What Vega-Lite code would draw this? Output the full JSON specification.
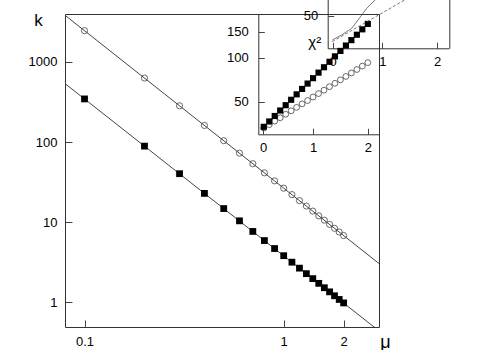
{
  "$schema": "https://vega.github.io/schema/vega-lite/v6.json",
  "width": 314,
  "height": 313,
  "autosize": {"type": "none"},
  "padding": {"left": 65, "top": 14, "right": 121, "bottom": 23},
  "background": "white",
  "config": {
    "view": {"stroke": "#333", "strokeWidth": 1},
    "font": "Liberation Sans",
    "axis": {
      "grid": false,
      "tickColor": "#444",
      "domainColor": "#333",
      "labelFont": "Liberation Sans",
      "labelFontSize": 13,
      "labelColor": "#000",
      "labelFlush": false,
      "labelOverlap": false,
      "titleFont": "Liberation Sans",
      "titleFontWeight": "normal",
      "titleColor": "#000"
    }
  },
  "datasets": {
    "main": [
      {"s": "o", "mu": 0.1, "k": 2458}, {"s": "o", "mu": 0.2, "k": 629.5}, {"s": "o", "mu": 0.3, "k": 283.8}, {"s": "o", "mu": 0.4, "k": 161.2},
      {"s": "o", "mu": 0.5, "k": 104.0}, {"s": "o", "mu": 0.6, "k": 72.7}, {"s": "o", "mu": 0.7, "k": 53.7}, {"s": "o", "mu": 0.8, "k": 41.3},
      {"s": "o", "mu": 0.9, "k": 32.8}, {"s": "o", "mu": 1.0, "k": 26.6}, {"s": "o", "mu": 1.1, "k": 22.1}, {"s": "o", "mu": 1.2, "k": 18.6},
      {"s": "o", "mu": 1.3, "k": 15.9}, {"s": "o", "mu": 1.4, "k": 13.75}, {"s": "o", "mu": 1.5, "k": 12.0}, {"s": "o", "mu": 1.6, "k": 10.6},
      {"s": "o", "mu": 1.7, "k": 9.39}, {"s": "o", "mu": 1.8, "k": 8.39}, {"s": "o", "mu": 1.9, "k": 7.54}, {"s": "o", "mu": 2.0, "k": 6.82},
      {"s": "sq", "mu": 0.1, "k": 345.6}, {"s": "sq", "mu": 0.2, "k": 89.0}, {"s": "sq", "mu": 0.3, "k": 40.3}, {"s": "sq", "mu": 0.4, "k": 22.9},
      {"s": "sq", "mu": 0.5, "k": 14.8}, {"s": "sq", "mu": 0.6, "k": 10.4}, {"s": "sq", "mu": 0.7, "k": 7.67}, {"s": "sq", "mu": 0.8, "k": 5.90},
      {"s": "sq", "mu": 0.9, "k": 4.69}, {"s": "sq", "mu": 1.0, "k": 3.82}, {"s": "sq", "mu": 1.1, "k": 3.17}, {"s": "sq", "mu": 1.2, "k": 2.67},
      {"s": "sq", "mu": 1.3, "k": 2.28}, {"s": "sq", "mu": 1.4, "k": 1.975}, {"s": "sq", "mu": 1.5, "k": 1.725}, {"s": "sq", "mu": 1.6, "k": 1.521},
      {"s": "sq", "mu": 1.7, "k": 1.351}, {"s": "sq", "mu": 1.8, "k": 1.207}, {"s": "sq", "mu": 1.9, "k": 1.086}, {"s": "sq", "mu": 2.0, "k": 0.983}
    ],
    "fit": [
      {"s": "o", "mu": 0.0798, "k": 3828}, {"s": "o", "mu": 3.01, "k": 3.05},
      {"s": "sq", "mu": 0.0798, "k": 537}, {"s": "sq", "mu": 3.01, "k": 0.44}
    ],
    "chi": [
      {"s": "o", "mu": 0.1, "c": 33.0}, {"s": "o", "mu": 0.2, "c": 34.8}, {"s": "o", "mu": 0.3, "c": 36.8}, {"s": "o", "mu": 0.4, "c": 38.8},
      {"s": "o", "mu": 0.5, "c": 41.0}, {"s": "o", "mu": 0.6, "c": 43.3}, {"s": "o", "mu": 0.7, "c": 45.7}, {"s": "o", "mu": 0.8, "c": 48.3},
      {"s": "o", "mu": 0.9, "c": 50.9}, {"s": "o", "mu": 1.0, "c": 53.8}, {"s": "o", "mu": 1.1, "c": 56.8}, {"s": "o", "mu": 1.2, "c": 59.9},
      {"s": "o", "mu": 1.3, "c": 63.3}, {"s": "o", "mu": 1.4, "c": 66.8}, {"s": "o", "mu": 1.5, "c": 70.5}, {"s": "o", "mu": 1.6, "c": 74.4},
      {"s": "o", "mu": 1.7, "c": 78.6}, {"s": "o", "mu": 1.8, "c": 83.0}, {"s": "o", "mu": 1.9, "c": 87.6}, {"s": "o", "mu": 2.0, "c": 92.5},
      {"s": "sq", "mu": 0.1, "c": 33.65}, {"s": "sq", "mu": 0.2, "c": 36.6}, {"s": "sq", "mu": 0.3, "c": 39.9}, {"s": "sq", "mu": 0.4, "c": 43.5},
      {"s": "sq", "mu": 0.5, "c": 47.3}, {"s": "sq", "mu": 0.6, "c": 51.5}, {"s": "sq", "mu": 0.7, "c": 56.1}, {"s": "sq", "mu": 0.8, "c": 61.1},
      {"s": "sq", "mu": 0.9, "c": 66.5}, {"s": "sq", "mu": 1.0, "c": 72.4}, {"s": "sq", "mu": 1.1, "c": 79.0}, {"s": "sq", "mu": 1.2, "c": 86.0},
      {"s": "sq", "mu": 1.3, "c": 93.7}, {"s": "sq", "mu": 1.4, "c": 102.1}, {"s": "sq", "mu": 1.5, "c": 111.2}, {"s": "sq", "mu": 1.6, "c": 121.1},
      {"s": "sq", "mu": 1.7, "c": 131.8}, {"s": "sq", "mu": 1.8, "c": 143.5}, {"s": "sq", "mu": 1.9, "c": 156.3}, {"s": "sq", "mu": 2.0, "c": 170.2}
    ],
    "extra": [
      {"s": "solid", "x": 0.084, "c": 34.1}, {"s": "solid", "x": 0.256, "c": 36.9}, {"s": "solid", "x": 0.439, "c": 41.0},
      {"s": "solid", "x": 0.622, "c": 50.5}, {"s": "solid", "x": 0.713, "c": 56.2}, {"s": "solid", "x": 0.865, "c": 64.0},
      {"s": "solid", "x": 0.956, "c": 74.9},
      {"s": "dash", "x": 0.084, "c": 33.2}, {"s": "dash", "x": 2.21, "c": 95.4}
    ]
  },
  "layer": [
    {
      "encoding": {
        "x": {"field": "mu", "type": "quantitative",
              "scale": {"type": "log", "domain": [0.0798, 3.01], "nice": false},
              "axis": {"orient": "bottom", "values": [0.1, 1, 2], "format": "~g", "domain": false, "tickSize": -7, "labelPadding": 15,
                       "title": "μ", "titleFontSize": 18, "titleX": 320, "titleY": 20, "titleBaseline": "alphabetic", "titleAlign": "center"}},
        "y": {"field": "k", "type": "quantitative",
              "scale": {"type": "log", "domain": [0.492, 3968], "nice": false},
              "axis": {"orient": "left", "values": [1, 10, 100, 1000], "format": "~g", "domain": false, "tickSize": -7, "labelPadding": 15,
                       "title": "k", "titleAngle": 0, "titleFontSize": 17, "titleX": -27, "titleY": 11, "titleBaseline": "alphabetic", "titleAlign": "center"}}
      },
      "layer": [
        {"data": {"name": "fit"}, "mark": {"type": "line", "clip": true, "stroke": "#444", "strokeWidth": 1}, "encoding": {"detail": {"field": "s"}}},
        {"data": {"name": "main"}, "transform": [{"filter": "datum.s === 'o'"}],
         "mark": {"type": "point", "shape": "circle", "filled": false, "stroke": "#444", "strokeWidth": 0.8, "size": 38, "opacity": 1}},
        {"data": {"name": "main"}, "transform": [{"filter": "datum.s === 'sq'"}],
         "mark": {"type": "square", "color": "#000", "size": 46, "opacity": 1}}
      ]
    },
    {
      "data": {"name": "chi"},
      "encoding": {
        "x": {"field": "mu", "type": "quantitative",
              "scale": {"domain": [0, 2.21], "range": [193.3, 314.3], "nice": false, "zero": false},
              "axis": {"orient": "bottom", "offset": -192.7, "values": [0.09, 1, 2], "format": "d", "tickSize": -6, "labelPadding": 13, "title": null}},
        "y": {"field": "c", "type": "quantitative",
              "scale": {"type": "log", "domain": [29.9, 199], "range": [120.3, 0], "nice": false},
              "axis": {"orient": "left", "offset": -193.3, "values": [50, 100, 150], "format": "d", "tickSize": -6, "labelPadding": 16,
                       "title": "χ²", "titleAngle": 0, "titleFontSize": 15, "titleX": 56, "titleY": 32, "titleBaseline": "alphabetic", "titleAlign": "center"}}
      },
      "layer": [
        {"transform": [{"filter": "datum.s === 'o'"}],
         "mark": {"type": "point", "shape": "circle", "filled": false, "stroke": "#444", "strokeWidth": 0.8, "size": 34, "opacity": 1}},
        {"transform": [{"filter": "datum.s === 'sq'"}],
         "mark": {"type": "square", "color": "#000", "size": 38, "opacity": 1}}
      ]
    },
    {
      "data": {"name": "extra"},
      "encoding": {
        "x": {"field": "x", "type": "quantitative",
              "scale": {"domain": [0, 2.21], "range": [262.7, 383.6], "nice": false, "zero": false},
              "axis": {"orient": "bottom", "offset": -278.7, "values": [0.09, 1, 2], "format": "d", "tickSize": -6, "labelPadding": 13, "title": null}}
      },
      "layer": [
        {"transform": [{"filter": "datum.s === 'solid'"}],
         "mark": {"type": "line", "stroke": "#555", "strokeWidth": 0.8},
         "encoding": {"y": {"field": "c", "type": "quantitative",
              "scale": {"type": "log", "domain": [29.9, 199], "range": [34.3, -85.9], "nice": false},
              "axis": {"orient": "left", "offset": -262.7, "values": [50], "format": "d", "tickSize": -6, "labelPadding": 16, "title": null}}}},
        {"transform": [{"filter": "datum.s === 'dash'"}],
         "mark": {"type": "line", "stroke": "#555", "strokeWidth": 0.8, "strokeDash": [3, 2]},
         "encoding": {"y": {"field": "c", "type": "quantitative",
              "scale": {"type": "log", "domain": [29.9, 199], "range": [34.3, -85.9], "nice": false},
              "axis": {"orient": "right", "offset": 70.3, "ticks": false, "labels": false, "title": null}}}}
      ],
      "resolve": {"axis": {"y": "independent"}}
    }
  ],
  "resolve": {
    "scale": {"x": "independent", "y": "independent"},
    "axis": {"x": "independent", "y": "independent"}
  }
}
